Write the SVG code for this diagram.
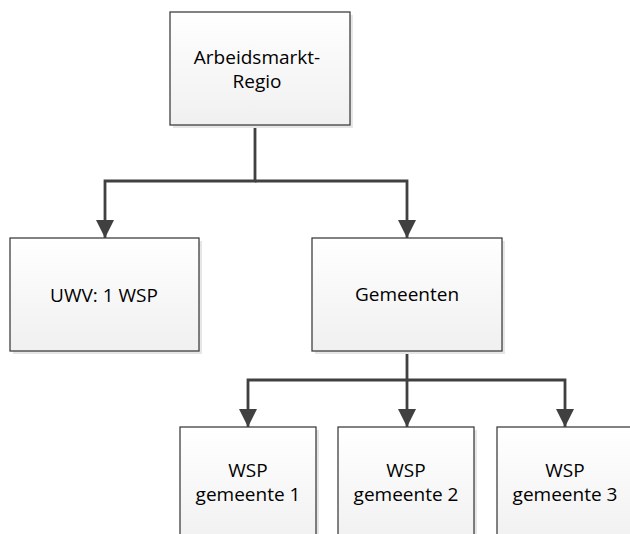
<svg xmlns="http://www.w3.org/2000/svg" width="630" height="534" viewBox="0 0 630 534">
<defs>
<linearGradient id="g" x1="0" y1="0" x2="0" y2="1">
<stop offset="0" stop-color="#ffffff"/>
<stop offset="1" stop-color="#f0f0f0"/>
</linearGradient>
<marker id="arr" viewBox="0 0 18 18" refX="18" refY="9" markerWidth="18" markerHeight="18" markerUnits="userSpaceOnUse" orient="auto">
<path d="M0,0 L18,9 L0,18 Z" fill="#404040"/>
</marker>
<style>
.box{fill:url(#g);stroke:#404040;stroke-width:1.3}
.sh{fill:#e6e6e6}
.lbl{font-family:"Open Sans","Liberation Sans",Arial,sans-serif;font-size:19px;fill:#000;text-anchor:middle}
.con{fill:none;stroke:#404040;stroke-width:2.8;marker-end:url(#arr)}
</style>
</defs>
<g id="connectors">
<path class="con" d="M255,125 V181 H105 V238"/>
<path class="con" d="M255,181 H407 V238"/>
<path class="con" d="M407,351 V380 H248 V427"/>
<path class="con" d="M407,380 V427"/>
<path class="con" d="M407,380 H565 V427"/>
</g>
<g id="n-regio">
<rect class="sh" x="173" y="15" width="180" height="113"/>
<rect class="box" x="170" y="12" width="180" height="113"/>
<text class="lbl" x="257" y="64">Arbeidsmarkt-</text>
<text class="lbl" x="257" y="88">Regio</text>
</g>
<g id="n-uwv">
<rect class="sh" x="13" y="241" width="189" height="113"/>
<rect class="box" x="10" y="238" width="189" height="113"/>
<text class="lbl" x="104" y="302">UWV: 1 WSP</text>
</g>
<g id="n-gemeenten">
<rect class="sh" x="315" y="241" width="190" height="113"/>
<rect class="box" x="312" y="238" width="190" height="113"/>
<text class="lbl" x="407" y="301">Gemeenten</text>
</g>
<g id="n-wsp1">
<rect class="sh" x="183" y="430" width="136" height="120"/>
<rect class="box" x="180" y="427" width="136" height="120"/>
<text class="lbl" x="248" y="477">WSP</text>
<text class="lbl" x="248" y="501">gemeente 1</text>
</g>
<g id="n-wsp2">
<rect class="sh" x="341" y="430" width="136" height="120"/>
<rect class="box" x="338" y="427" width="136" height="120"/>
<text class="lbl" x="406" y="477">WSP</text>
<text class="lbl" x="406" y="501">gemeente 2</text>
</g>
<g id="n-wsp3">
<rect class="sh" x="500" y="430" width="136" height="120"/>
<rect class="box" x="497" y="427" width="136" height="120"/>
<text class="lbl" x="565" y="477">WSP</text>
<text class="lbl" x="565" y="501">gemeente 3</text>
</g>
</svg>
